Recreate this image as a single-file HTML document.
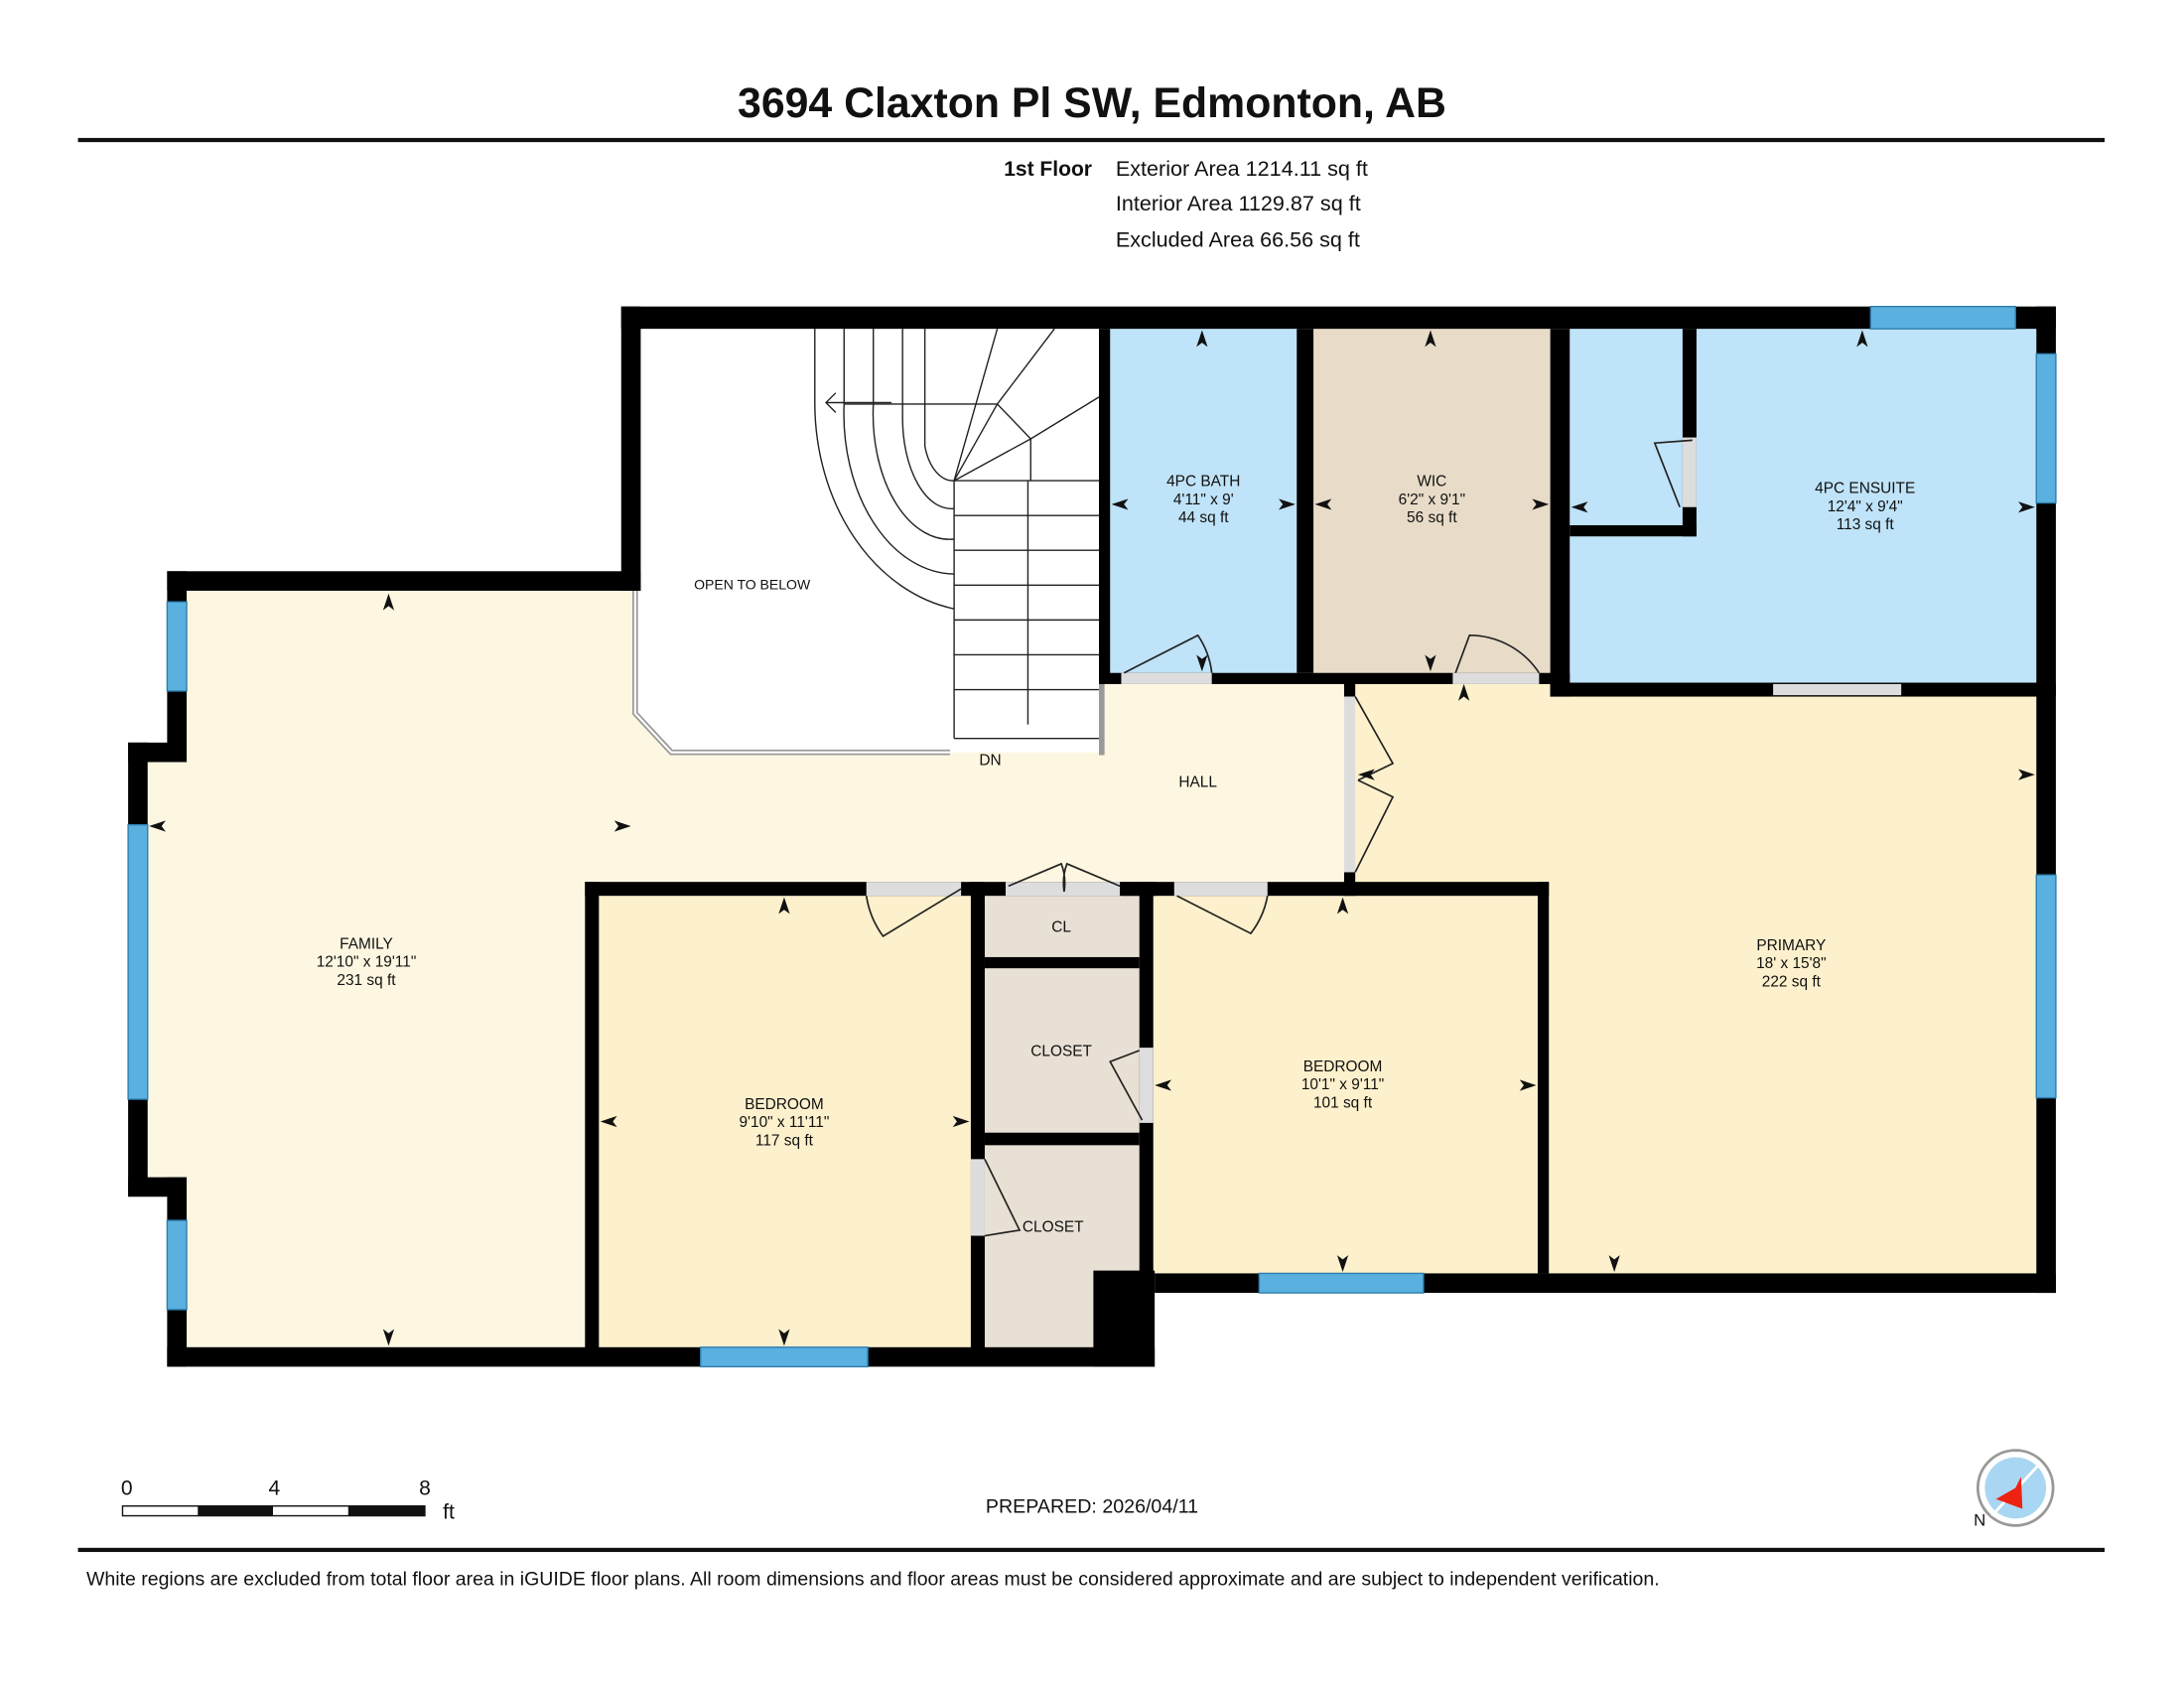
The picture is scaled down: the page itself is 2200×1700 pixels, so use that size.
<!DOCTYPE html>
<html><head><meta charset="utf-8"><style>
html,body{margin:0;padding:0;background:#fff}
svg{display:block}
text{font-family:"Liberation Sans",Arial,sans-serif;fill:#111}
</style></head><body>
<svg width="2200" height="1700" viewBox="0 0 1568 1211.6" xmlns="http://www.w3.org/2000/svg">
<rect width="1568" height="1212" fill="#fff"/>
<text x="784" y="84" font-size="30.5" font-weight="bold" text-anchor="middle">3694 Claxton Pl SW, Edmonton, AB</text>
<rect x="56" y="99" width="1455" height="3" fill="#111"/>
<text x="784" y="126" font-size="15" font-weight="bold" text-anchor="end">1st Floor</text>
<text x="801" y="126" font-size="15.4">Exterior Area 1214.11 sq ft</text>
<text x="801" y="151" font-size="15.4">Interior Area 1129.87 sq ft</text>
<text x="801" y="177" font-size="15.4">Excluded Area 66.56 sq ft</text>

<polygon points="134,424 456,424 456,512 482,540 790,540 790,490 968,490 968,633 420,633 420,967 134,967 134,858 106,858 106,545 134,545" fill="#fdf7e2"/>
<rect x="430" y="643" width="267" height="324" fill="#fdf0cc"/>
<rect x="828" y="643" width="276" height="271" fill="#fdf0cc"/>
<rect x="968" y="490" width="494" height="424" fill="#fdf0cc"/>
<rect x="797" y="236" width="134" height="247" fill="#bfe3f8"/>
<rect x="943" y="236" width="170" height="247" fill="#e8dcc8"/>
<rect x="1127" y="236" width="335" height="256" fill="#bfe3f8"/>
<rect x="707" y="643" width="111" height="324" fill="#e8e0d4"/>
<rect x="585" y="236" width="204" height="294" fill="#fff"/>
<polyline points="456,424 456,512 482,540 682,540" fill="none" stroke="#999" stroke-width="4"/>
<polyline points="456,424 456,512 482,540 682,540" fill="none" stroke="#fff" stroke-width="1.5"/>
<g stroke="#222" stroke-width="1" fill="none">
<path d="M585,236 L585,290 A120,150 0 0 0 685,437"/>
<path d="M606,236 L606,290 A80,115 0 0 0 685,412"/>
<path d="M627,236 L627,290 A55,90 0 0 0 685,387"/>
<path d="M648,236 L648,300 A35,65 0 0 0 685,365"/>
<path d="M664,236 L664,320 A21,35 0 0 0 685,345"/>
<line x1="685" y1="345" x2="685" y2="530"/>
<line x1="685" y1="345" x2="789" y2="345"/>
<line x1="685" y1="345" x2="716" y2="236"/><line x1="685" y1="345" x2="716" y2="290"/>
<line x1="685" y1="345" x2="740" y2="315"/><line x1="716" y1="290" x2="757" y2="236"/>
<line x1="716" y1="290" x2="740" y2="315"/><line x1="740" y1="315" x2="789" y2="285"/>
<line x1="606" y1="290" x2="716" y2="290"/><line x1="740" y1="315" x2="740" y2="345"/>
<line x1="685" y1="370" x2="789" y2="370"/><line x1="685" y1="395" x2="789" y2="395"/>
<line x1="685" y1="420" x2="789" y2="420"/><line x1="685" y1="445" x2="789" y2="445"/>
<line x1="685" y1="470" x2="789" y2="470"/><line x1="685" y1="495" x2="789" y2="495"/>
<line x1="685" y1="530" x2="789" y2="530"/><line x1="738" y1="345" x2="738" y2="520"/>
<polyline points="600,282 593,289 600,296"/><line x1="593" y1="289" x2="640" y2="289"/>
</g>
<rect x="789" y="490" width="4" height="52" fill="#999"/>

<g fill="#000">
<rect x="446" y="220" width="1030" height="16"/>
<rect x="446" y="220" width="14" height="204"/>
<rect x="120" y="410" width="340" height="14"/>
<rect x="120" y="410" width="14" height="135"/>
<rect x="92" y="533" width="42" height="14"/>
<rect x="92" y="533" width="14" height="325"/>
<rect x="92" y="845" width="42" height="14"/>
<rect x="120" y="845" width="14" height="136"/>
<rect x="120" y="967" width="709" height="14"/>
<rect x="785" y="912" width="44" height="69"/>
<rect x="829" y="914" width="647" height="14"/>
<rect x="1462" y="220" width="14" height="708"/>
<rect x="420" y="633" width="410" height="10"/>
<rect x="420" y="633" width="10" height="340"/>
<rect x="697" y="633" width="10" height="340"/>
<rect x="707" y="687" width="111" height="8"/>
<rect x="707" y="813" width="111" height="9"/>
<rect x="818" y="633" width="10" height="280"/>
<rect x="805" y="633" width="307" height="10"/>
<rect x="1104" y="633" width="8" height="281"/>
<rect x="965" y="490" width="8" height="10"/>
<rect x="965" y="626" width="8" height="17"/>
<rect x="789" y="236" width="8" height="254"/>
<rect x="931" y="236" width="12" height="247"/>
<rect x="789" y="483" width="338" height="8"/>
<rect x="1113" y="236" width="14" height="264"/>
<rect x="1113" y="490" width="363" height="10"/>
<rect x="1208" y="236" width="10" height="149"/>
<rect x="1127" y="377" width="91" height="8"/>
</g>
<g fill="#ddd">
<rect x="805" y="483" width="65" height="8"/><rect x="1043" y="483" width="62" height="8"/>
<rect x="1273" y="491" width="92" height="8"/><rect x="1208" y="314" width="10" height="50"/>
<rect x="965" y="500" width="8" height="126"/>
<rect x="622" y="633" width="68" height="10"/><rect x="722" y="633" width="82" height="10"/>
<rect x="843" y="633" width="67" height="10"/><rect x="818" y="752" width="10" height="54"/>
<rect x="697" y="832" width="10" height="55"/>
</g>
<g fill="#5ab0de" stroke="#2e7fb0" stroke-width="1">
<rect x="120" y="432" width="14" height="64"/><rect x="92" y="592" width="14" height="197"/>
<rect x="120" y="876" width="14" height="64"/><rect x="503" y="967" width="120" height="14"/>
<rect x="904" y="914" width="118" height="14"/><rect x="1462" y="628" width="14" height="160"/>
<rect x="1462" y="254" width="14" height="107"/><rect x="1343" y="220" width="104" height="16"/>
</g>
<g fill="none" stroke="#222" stroke-width="1.2">
<path d="M807,483 L860,456 A60,60 0 0 1 870,483"/>
<path d="M1045,483 L1055,456 A60,60 0 0 1 1105,483"/>
<path d="M1215,316 L1188,318 L1206,364"/>
<path d="M973,500 L1000,548 L975,560"/><path d="M973,626 L1000,572 L975,560"/>
<path d="M622,643 A66,66 0 0 0 634,672 L690,638"/>
<path d="M724,636 L762,620 A40,40 0 0 1 764,640 M804,636 L766,620 A40,40 0 0 0 764,640"/>
<path d="M845,643 L898,670 A62,62 0 0 0 910,643"/>
<path d="M818,754 L797,762 L820,804"/>
<path d="M707,832 L732,883 L707,887"/>
</g>
<g font-size="11" text-anchor="middle">
<text x="540" y="423" font-size="10">OPEN TO BELOW</text>
<text x="711" y="549">DN</text>
<text x="860" y="565">HALL</text>
<text x="864" y="349">4PC BATH</text><text x="864" y="362">4'11" x 9'</text><text x="864" y="375">44 sq ft</text>
<text x="1028" y="349">WIC</text><text x="1028" y="362">6'2" x 9'1"</text><text x="1028" y="375">56 sq ft</text>
<text x="1339" y="354">4PC ENSUITE</text><text x="1339" y="367">12'4" x 9'4"</text><text x="1339" y="380">113 sq ft</text>
<text x="263" y="681">FAMILY</text><text x="263" y="694">12'10" x 19'11"</text><text x="263" y="707">231 sq ft</text>
<text x="563" y="796">BEDROOM</text><text x="563" y="809">9'10" x 11'11"</text><text x="563" y="822">117 sq ft</text>
<text x="964" y="769">BEDROOM</text><text x="964" y="782">10'1" x 9'11"</text><text x="964" y="795">101 sq ft</text>
<text x="1286" y="682">PRIMARY</text><text x="1286" y="695">18' x 15'8"</text><text x="1286" y="708">222 sq ft</text>
<text x="762" y="669">CL</text><text x="762" y="758">CLOSET</text><text x="756" y="884">CLOSET</text>
</g>
<g fill="#111">
<path d="M279,426 l-4,12 l4,-3 l4,3z"/><path d="M279,966 l-4,-12 l4,3 l4,-3z"/>
<path d="M107,593 l12,-4 l-3,4 l3,4z"/><path d="M453,593 l-12,-4 l3,4 l-3,4z"/>
<path d="M563,644 l-4,12 l4,-3 l4,3z"/><path d="M563,966 l-4,-12 l4,3 l4,-3z"/>
<path d="M431,805 l12,-4 l-3,4 l3,4z"/><path d="M696,805 l-12,-4 l3,4 l-3,4z"/>
<path d="M964,644 l-4,12 l4,-3 l4,3z"/><path d="M964,913 l-4,-12 l4,3 l4,-3z"/>
<path d="M829,779 l12,-4 l-3,4 l3,4z"/><path d="M1103,779 l-12,-4 l3,4 l-3,4z"/>
<path d="M1051,491 l-4,12 l4,-3 l4,3z"/><path d="M1159,913 l-4,-12 l4,3 l4,-3z"/>
<path d="M975,556 l12,-4 l-3,4 l3,4z"/><path d="M1461,556 l-12,-4 l3,4 l-3,4z"/>
<path d="M863,237 l-4,12 l4,-3 l4,3z"/><path d="M863,482 l-4,-12 l4,3 l4,-3z"/>
<path d="M798,362 l12,-4 l-3,4 l3,4z"/><path d="M930,362 l-12,-4 l3,4 l-3,4z"/>
<path d="M1027,237 l-4,12 l4,-3 l4,3z"/><path d="M1027,482 l-4,-12 l4,3 l4,-3z"/>
<path d="M944,362 l12,-4 l-3,4 l3,4z"/><path d="M1112,362 l-12,-4 l3,4 l-3,4z"/>
<path d="M1337,237 l-4,12 l4,-3 l4,3z"/>
<path d="M1128,364 l12,-4 l-3,4 l3,4z"/><path d="M1461,364 l-12,-4 l3,4 l-3,4z"/>
</g>
<g font-size="15">
<text x="91" y="1073" text-anchor="middle">0</text><text x="197" y="1073" text-anchor="middle">4</text><text x="305" y="1073" text-anchor="middle">8</text>
<text x="318" y="1090">ft</text>
</g>
<rect x="88" y="1081" width="217" height="7" fill="#fff" stroke="#111"/>
<rect x="142" y="1081" width="54" height="7" fill="#111"/><rect x="250" y="1081" width="55" height="7" fill="#111"/>
<text x="784" y="1086" font-size="14" text-anchor="middle">PREPARED: 2026/04/11</text>
<circle cx="1447" cy="1068" r="27" fill="#fff" stroke="#999" stroke-width="2"/>
<circle cx="1447" cy="1068" r="22" fill="#a9d6f2"/>
<line x1="1430" y1="1088" x2="1465" y2="1050" stroke="#fff" stroke-width="2"/>
<polygon points="1447,1068 1451,1060 1452,1083 1433,1076" fill="#e21"/>
<text x="1417" y="1095" font-size="12">N</text>
<rect x="56" y="1111" width="1455" height="3" fill="#111"/>
<text x="62" y="1138" font-size="13.9">White regions are excluded from total floor area in iGUIDE floor plans. All room dimensions and floor areas must be considered approximate and are subject to independent verification.</text>
</svg>
</body></html>
